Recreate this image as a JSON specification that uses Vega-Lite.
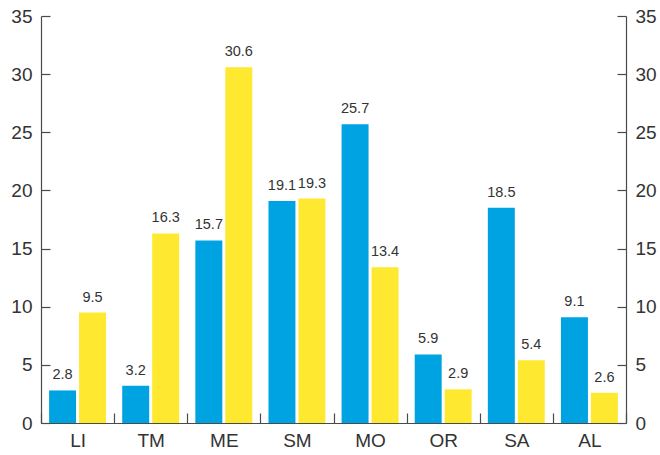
{
  "$schema": "https://vega.github.io/schema/vega-lite/v6.json",
  "width": 585,
  "height": 407,
  "autosize": "none",
  "padding": {"left": 41, "top": 16, "right": 34, "bottom": 32},
  "background": "white",
  "config": {
    "view": {"stroke": null},
    "font": "Liberation Sans",
    "axis": {"grid": false, "domainColor": "#4a4a4a", "tickColor": "#4a4a4a", "labelColor": "#333333", "labelFont": "Liberation Sans", "labelFontSize": 19, "titleFontSize": 0, "domainWidth": 1.2, "tickWidth": 1.2}
  },
  "data": {
    "values": [
      {"cat": "LI", "s": "a", "v": 2.8}, {"cat": "LI", "s": "b", "v": 9.5},
      {"cat": "TM", "s": "a", "v": 3.2}, {"cat": "TM", "s": "b", "v": 16.3},
      {"cat": "ME", "s": "a", "v": 15.7}, {"cat": "ME", "s": "b", "v": 30.6},
      {"cat": "SM", "s": "a", "v": 19.1}, {"cat": "SM", "s": "b", "v": 19.3},
      {"cat": "MO", "s": "a", "v": 25.7}, {"cat": "MO", "s": "b", "v": 13.4},
      {"cat": "OR", "s": "a", "v": 5.9}, {"cat": "OR", "s": "b", "v": 2.9},
      {"cat": "SA", "s": "a", "v": 18.5}, {"cat": "SA", "s": "b", "v": 5.4},
      {"cat": "AL", "s": "a", "v": 9.1}, {"cat": "AL", "s": "b", "v": 2.6}
    ]
  },
  "encoding": {
    "x": {"field": "cat", "type": "nominal", "sort": null, "title": null,
      "scale": {"paddingInner": 0, "paddingOuter": 0},
      "axis": {"labelAngle": 0, "tickBand": "extent", "tickSize": -10, "labelPadding": 18}},
    "xOffset": {"field": "s", "type": "nominal", "scale": {"paddingInner": 0.1, "paddingOuter": 0.27}},
    "y": {"field": "v", "type": "quantitative", "title": null,
      "scale": {"domain": [0, 35], "nice": false}}
  },
  "layer": [
    {
      "mark": {"type": "bar"},
      "encoding": {
        "color": {"field": "s", "type": "nominal", "legend": null,
          "scale": {"domain": ["a", "b"], "range": ["#00A3E2", "#FFE930"]}},
        "y": {"field": "v", "type": "quantitative", "title": null,
          "axis": {"orient": "left", "values": [0, 5, 10, 15, 20, 25, 30, 35], "tickSize": -9, "labelPadding": 18}}
      }
    },
    {
      "mark": {"type": "text", "baseline": "alphabetic", "dy": -11, "fontSize": 14.5, "color": "#333333", "font": "Liberation Sans"},
      "encoding": {
        "text": {"field": "v", "type": "quantitative", "format": ".1f"},
        "y": {"field": "v", "type": "quantitative", "title": null,
          "axis": {"orient": "right", "values": [0, 5, 10, 15, 20, 25, 30, 35], "tickSize": -9, "labelPadding": 18}}
      }
    }
  ],
  "resolve": {"axis": {"y": "independent"}}
}
